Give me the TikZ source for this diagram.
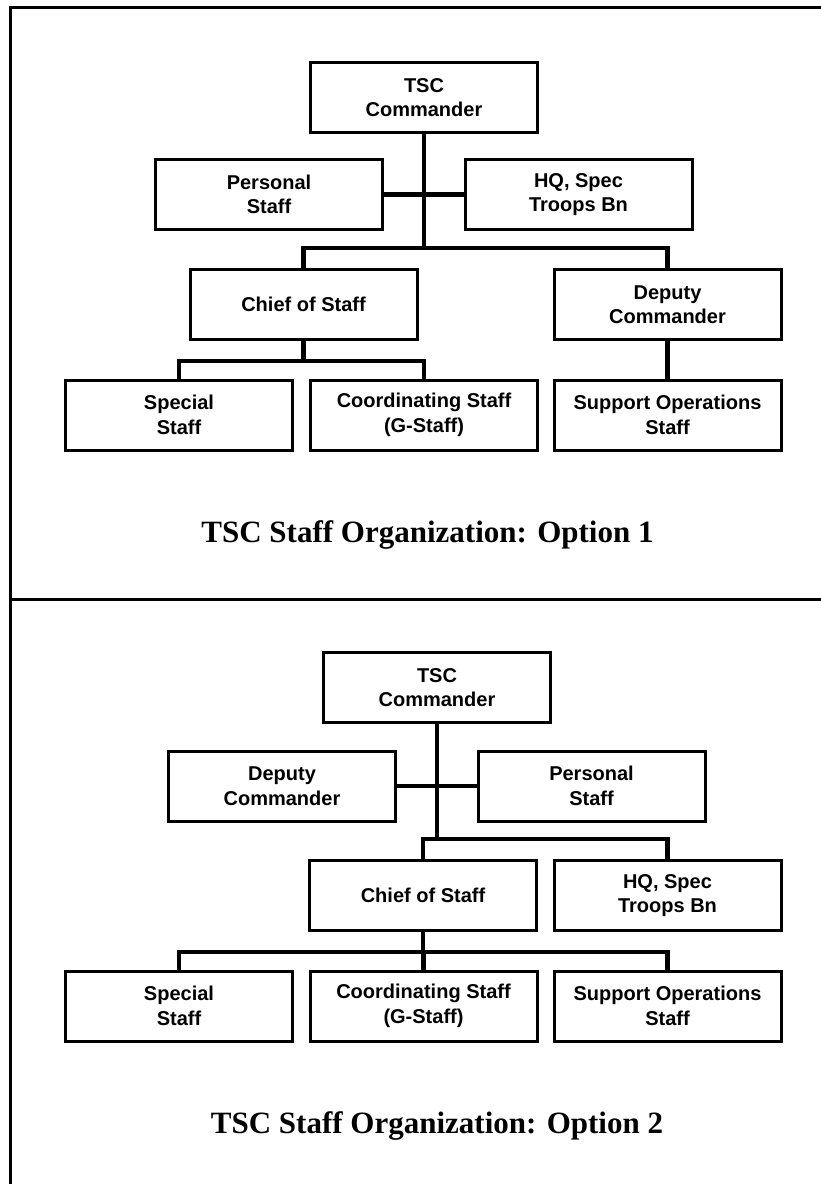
\documentclass[tikz,border=0pt]{standalone}
\usepackage{fontspec}
\setmainfont{Liberation Sans}
\newfontfamily\titlefont{Liberation Serif}
\usetikzlibrary{calc}

\tikzset{
  orgbox/.style={draw, line width=3pt, minimum width=227pt, minimum height=70pt,
    inner sep=0pt, align=center, fill=white,
    font=\bfseries\fontsize{20}{24.5}\selectfont},
  conn/.style={line width=4.5pt, line join=miter},
  frame/.style={line width=3pt},
  caption/.style={font=\titlefont\bfseries\fontsize{31}{36}\selectfont, anchor=base, inner sep=0pt}
}

\begin{document}
\begin{tikzpicture}[x=1pt, y=-1pt]
  \useasboundingbox (0,0) rectangle (821,1184);
  \fill[white] (0,0) rectangle (821,1184);

  % outer frame and divider between the two options
  \coordinate (fTL) at (10.5,7.5);
  \coordinate (fTR) at (821,7.5);
  \coordinate (fBL) at (10.5,1184);
  \coordinate (dL) at (10.5,599);
  \coordinate (dR) at (821,599);
  \draw[frame] (fBL) -- (fTL) -- (fTR);
  \draw[frame] (dL) -- (dR);

  % ---------- Option 1 ----------
  \node[orgbox] (tsc1)   at (424,97.5)   {TSC\\Commander};
  \node[orgbox] (pers1)  at (269,194.5)  {Personal\\Staff};
  \node[orgbox] (hq1)    at (578.5,194.5){HQ, Spec\\Troops Bn};
  \node[orgbox] (cos1)   at (303.5,304.5){Chief of Staff};
  \node[orgbox] (dep1)   at (667.5,304.5){Deputy\\Commander};
  \node[orgbox] (spec1)  at (179,415)    {Special\\Staff};
  \node[orgbox] (coord1) at (424,415)    {Coordinating Staff\\(G-Staff)};
  \node[orgbox] (sup1)   at (667.5,415)  {Support Operations\\Staff};

  \coordinate (j1) at (424,248);
  \coordinate (k1) at (303.5,361);
  \draw[conn] (tsc1.south) -- (j1);
  \draw[conn] (pers1.east) -- (hq1.west);
  \draw[conn] (cos1.north) |- (j1) -| (dep1.north);
  \draw[conn] (cos1.south) -- (k1);
  \draw[conn] (spec1.north) |- (k1) -| (coord1.north);
  \draw[conn] (dep1.south) -- (sup1.north);

  \node[caption] (cap1) at (427.5,542) {TSC Staff Organization: Option 1};

  % ---------- Option 2 ----------
  \node[orgbox] (tsc2)   at (437,687.5)  {TSC\\Commander};
  \node[orgbox] (dep2)   at (282,786)    {Deputy\\Commander};
  \node[orgbox] (pers2)  at (591.5,786)  {Personal\\Staff};
  \node[orgbox] (cos2)   at (423,895.5)  {Chief of Staff};
  \node[orgbox] (hq2)    at (667.5,895.5){HQ, Spec\\Troops Bn};
  \node[orgbox] (spec2)  at (179,1006)   {Special\\Staff};
  \node[orgbox] (coord2) at (423.5,1006) {Coordinating Staff\\(G-Staff)};
  \node[orgbox] (sup2)   at (667.5,1006) {Support Operations\\Staff};

  \coordinate (j2) at (437,839);
  \coordinate (k2) at (423,952);
  \draw[conn] (tsc2.south) -- (j2);
  \draw[conn] (dep2.east) -- (pers2.west);
  \draw[conn] (cos2.north) |- (j2) -| (hq2.north);
  \draw[conn] (cos2.south) -- (k2);
  \draw[conn] (spec2.north) |- (k2) -| (sup2.north);
  \draw[conn] (coord2.north) -- (coord2.north |- k2);

  \node[caption] (cap2) at (437,1133) {TSC Staff Organization: Option 2};
\end{tikzpicture}
\end{document}
